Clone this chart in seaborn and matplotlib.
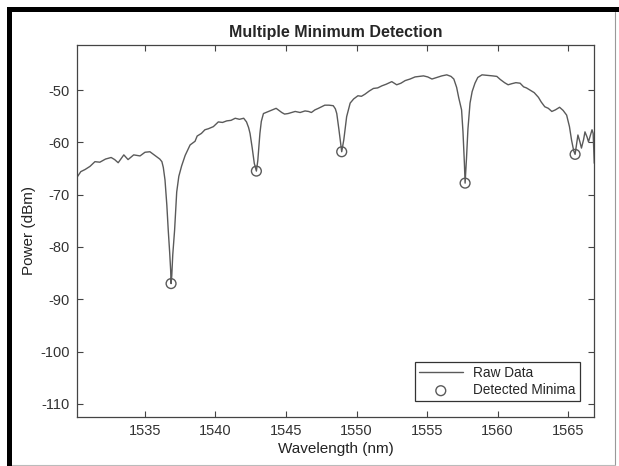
import numpy as np
import pandas as pd
import seaborn as sns
import matplotlib.pyplot as plt
from matplotlib.patches import Rectangle
from matplotlib.lines import Line2D

# 스펙트럼 원본 데이터
wavelength = [1530.15, 1530.45, 1530.75, 1531.1, 1531.45, 1531.8, 1532.2, 1532.6, 1532.85, 1533.1,
              1533.5, 1533.8, 1534.2, 1534.65, 1535.0, 1535.35, 1535.8, 1536.05, 1536.2, 1536.3,
              1536.42, 1536.55, 1536.65, 1536.75, 1536.82, 1536.85, 1536.9, 1536.97, 1537.1, 1537.25,
              1537.4, 1537.6, 1537.85, 1538.2, 1538.55, 1538.7, 1539.0, 1539.25, 1539.5, 1539.85,
              1540.2, 1540.5, 1540.8, 1541.1, 1541.4, 1541.7, 1542.0, 1542.2, 1542.35, 1542.45,
              1542.6, 1542.75, 1542.9, 1543.0, 1543.15, 1543.25, 1543.4, 1543.85, 1544.3, 1544.5,
              1544.7, 1544.9, 1545.15, 1545.4, 1545.65, 1546.0, 1546.35, 1546.6, 1546.8, 1547.05,
              1547.3, 1547.75, 1548.05, 1548.35, 1548.5, 1548.6, 1548.75, 1548.95, 1549.1, 1549.3,
              1549.55, 1549.8, 1550.1, 1550.35, 1550.6, 1550.9, 1551.2, 1551.5, 1551.8, 1552.1,
              1552.5, 1552.85, 1553.15, 1553.45, 1553.8, 1554.15, 1554.45, 1554.75, 1555.05, 1555.35,
              1555.7, 1556.05, 1556.4, 1556.7, 1556.9, 1557.1, 1557.25, 1557.45, 1557.55, 1557.65,
              1557.7, 1557.8, 1557.9, 1558.05, 1558.2, 1558.4, 1558.6, 1558.9, 1559.3, 1559.65,
              1559.95, 1560.2, 1560.5, 1560.75, 1561.0, 1561.3, 1561.6, 1561.85, 1562.05, 1562.3,
              1562.6, 1562.9, 1563.1, 1563.35, 1563.6, 1563.85, 1564.1, 1564.4, 1564.65, 1564.9,
              1565.1, 1565.25, 1565.4, 1565.5, 1565.6, 1565.7, 1565.85, 1565.95, 1566.1, 1566.2,
              1566.35, 1566.45, 1566.6, 1566.7, 1566.78, 1566.82, 1566.86]
power = [-66.8, -65.6, -65.2, -64.6, -63.7, -63.8, -63.2, -62.9, -63.3, -63.9,
         -62.4, -63.3, -62.4, -62.6, -61.9, -61.8, -62.7, -63.2, -63.7, -64.8,
         -67.2, -72.0, -76.8, -81.0, -84.4, -87.0, -85.5, -81.5, -76.8, -69.5,
         -66.5, -64.5, -62.5, -60.5, -59.8, -58.8, -58.3, -57.6, -57.4, -57.0,
         -56.1, -56.2, -55.9, -55.8, -55.4, -55.6, -55.4, -56.1, -57.2, -58.3,
         -61.0, -64.0, -65.5, -63.5, -58.3, -56.0, -54.5, -54.0, -53.5, -53.9,
         -54.3, -54.6, -54.5, -54.3, -54.1, -54.3, -54.0, -54.1, -54.3, -53.8,
         -53.5, -52.9, -52.9, -53.0, -53.6, -54.5, -57.5, -61.8, -59.5, -55.1,
         -52.5, -51.7, -51.1, -51.2, -50.8, -50.2, -49.7, -49.6, -49.2, -48.9,
         -48.4, -49.0, -48.7, -48.2, -47.9, -47.5, -47.4, -47.3, -47.5, -47.9,
         -47.6, -47.3, -47.1, -47.4, -47.9, -49.5, -51.5, -53.8, -58.0, -64.0,
         -67.8, -63.0, -57.5, -52.5, -50.3, -48.7, -47.6, -47.1, -47.2, -47.3,
         -47.4, -48.0, -48.6, -49.0, -48.8, -48.6, -48.7, -49.4, -49.6, -50.0,
         -50.5, -51.4, -52.3, -53.2, -53.5, -54.1, -53.8, -53.3, -53.9, -54.8,
         -57.0, -59.6, -61.6, -62.3, -60.5, -58.6, -60.0, -61.1, -59.5, -58.0,
         -59.0, -59.9, -58.5, -57.6, -58.3, -61.0, -64.0]

# 검출된 최소점
min_wavelength = [1536.85, 1542.9, 1548.95, 1557.7, 1565.5]
min_power = [-87.0, -65.5, -61.8, -67.8, -62.3]

xticks = [1535, 1540, 1545, 1550, 1555, 1560, 1565]
yticks = [-110, -100, -90, -80, -70, -60, -50]

raw = pd.DataFrame({'wl': wavelength, 'pw': power})
mins = pd.DataFrame({'wl': min_wavelength, 'pw': min_power})

sns.set_style('ticks')
plt.rcParams['font.family'] = ['Liberation Sans', 'DejaVu Sans']
plt.rcParams['axes.unicode_minus'] = False
plt.rcParams['xtick.direction'] = 'in'
plt.rcParams['ytick.direction'] = 'in'

fig = plt.figure(figsize=(6.19, 4.66), dpi=100)
ax = fig.add_axes([0.1244, 0.1052, 0.8352, 0.7982])

sns.lineplot(data=raw, x='wl', y='pw', sort=False, estimator=None, color='#5a5a5a',
             linewidth=1.0, ax=ax, label='Raw Data')
sns.scatterplot(data=mins, x='wl', y='pw', marker='o', s=50, facecolors='none',
                edgecolor='#5a5a5a', linewidth=1.0, ax=ax, label='Detected Minima')

ax.set_xlim(1530.18, 1566.84)
ax.set_ylim(-112.5, -41.4)
ax.set_xticks(xticks)
ax.set_yticks(yticks)
ax.tick_params(top=True, right=True, length=4, width=0.8, color='#444444',
               labelsize=10.5, labelcolor='#333333', pad=5)
for s in ax.spines.values():
    s.set_color('#444444')
    s.set_linewidth(0.9)

ax.set_title('Multiple Minimum Detection', fontsize=11.5, fontweight='bold', pad=6)
ax.set_xlabel('Wavelength (nm)', fontsize=11, labelpad=3, color='#222222')
ax.set_ylabel('Power (dBm)', fontsize=11, labelpad=3, color='#222222')

leg = ax.legend(loc='lower right', fontsize=9.8, frameon=True, fancybox=False,
                edgecolor='#333333', framealpha=1, handlelength=3.2,
                bbox_to_anchor=(0.973, 0.042), borderaxespad=0.0,
                borderpad=0.3, labelspacing=0.25)
leg.get_frame().set_linewidth(0.9)

# 바깥 테두리 (스크린샷 프레임)
W, H = 619, 466
fig.add_artist(Rectangle((7 / W, 1 - 12 / H), 1 - 7 / W, 5 / H, transform=fig.transFigure,
                         color='black', lw=0))
fig.add_artist(Rectangle((7 / W, 0), 5 / W, 1 - 7 / H, transform=fig.transFigure,
                         color='black', lw=0))
fig.add_artist(Line2D([615 / W, 615 / W], [0, 1 - 12 / H], transform=fig.transFigure,
                      color='#999999', lw=0.8))
fig.add_artist(Line2D([12 / W, 615 / W], [1.5 / H, 1.5 / H], transform=fig.transFigure,
                      color='#bbbbbb', lw=0.8))

fig.savefig('out.png', dpi=100)
